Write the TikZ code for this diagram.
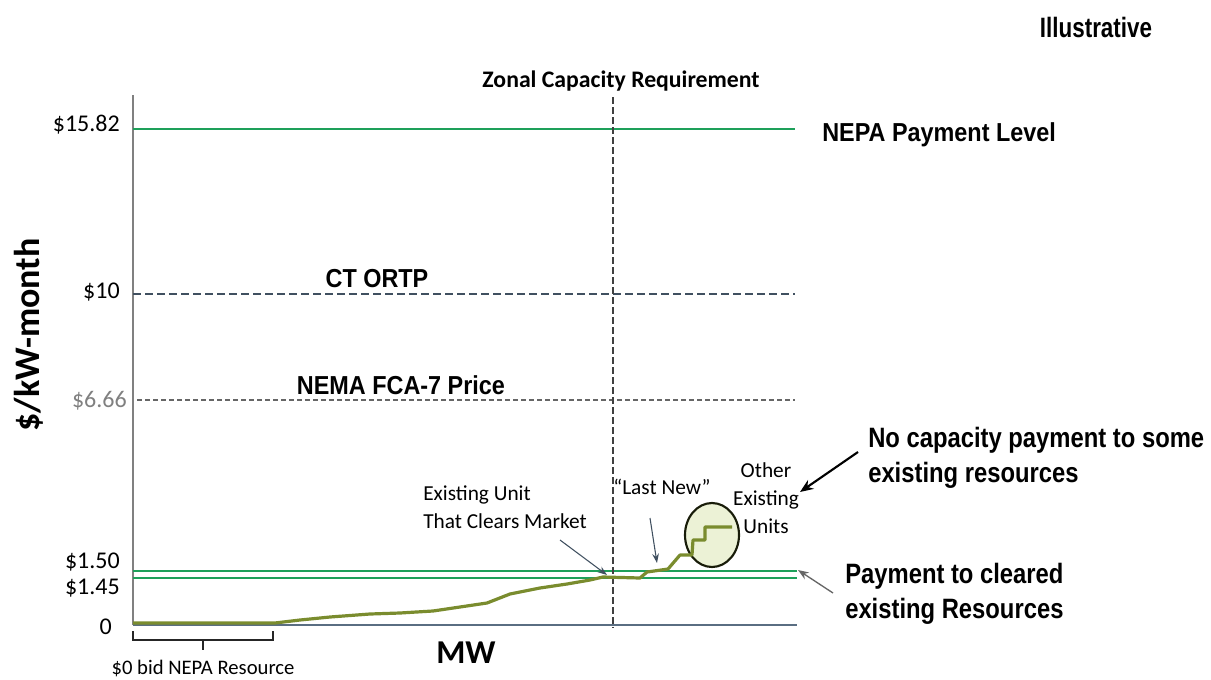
\documentclass[tikz,border=0pt]{standalone}
\usepackage{fontspec}
\setmainfont{Carlito}
\newfontfamily\arnfont[FakeStretch=0.9]{Liberation Sans}
\newfontfamily\sidefont[FakeStretch=0.85]{Liberation Sans}
\newfontfamily\illfont[FakeStretch=0.8]{Liberation Sans}
\usetikzlibrary{arrows.meta,shapes.geometric}
\definecolor{lgreen}{RGB}{30,160,90}
\definecolor{olive}{RGB}{122,140,46}
\definecolor{slate}{RGB}{64,80,96}
\definecolor{circfill}{RGB}{236,242,214}
\definecolor{basecol}{RGB}{90,110,130}
\begin{document}
\begin{tikzpicture}[x=0.75pt,y=-0.75pt,
  tick/.style={anchor=east,inner sep=0pt,font=\fontsize{18}{20}\selectfont},
  boldlab/.style={inner sep=0pt,font=\arnfont\bfseries\fontsize{19.5}{22}\selectfont},
  sidelab/.style={inner sep=0pt,anchor=west,align=left,font=\sidefont\bfseries\fontsize{21}{26}\selectfont},
  small/.style={inner sep=0pt,font=\fontsize{16}{21}\selectfont},
  greenline/.style={draw=lgreen,line width=1.6pt},
  thinarrow/.style={-{Stealth[length=7pt,width=5pt]},line width=0.8pt,draw=slate}]
\useasboundingbox (0,0) rectangle (1211,679);

% axes
\coordinate (ytop) at (133,95);
\coordinate (origin) at (133,625);
\coordinate (xend) at (797,625);
\draw[gray,line width=0.8pt] (ytop) -- (origin);
\draw[basecol,line width=0.8pt] (origin) -- (xend);

% horizontal levels
\coordinate (l1a) at (133,129); \coordinate (l1b) at (795,129);
\draw[greenline] (l1a) -- (l1b);
\coordinate (l2a) at (133,294); \coordinate (l2b) at (795,294);
\draw[slate,line width=1.1pt,dash pattern=on 6pt off 3pt] (l2a) -- (l2b);
\coordinate (l3a) at (137,400); \coordinate (l3b) at (795,400);
\draw[gray!80!black,line width=0.8pt,dash pattern=on 3.5pt off 2.5pt] (l3a) -- (l3b);
\coordinate (l4a) at (133,571); \coordinate (l4b) at (797,571);
\draw[greenline] (l4a) -- (l4b);
\coordinate (l5a) at (133,578); \coordinate (l5b) at (797,578);
\draw[greenline] (l5a) -- (l5b);

% zonal requirement line
\coordinate (ztop) at (613,97); \coordinate (zbot) at (613,628);
\draw[black!75,line width=0.9pt,dash pattern=on 5pt off 2.5pt] (ztop) -- (zbot);

% circle
\node[draw=black!80!olive,fill=circfill,line width=1.6pt,ellipse,minimum width=40.5pt,minimum height=48pt,inner sep=0pt] (circ) at (712,535) {};

% supply curve
\draw[olive,line width=2.4pt,line join=round] (133,623) -- (275,623) -- (300,620) -- (330,617) -- (370,614)
  -- (400,613) -- (433,611) -- (460,607) -- (487,603) -- (510,594) -- (540,588) -- (567,584)
  -- (590,580) -- (603,577) -- (640,578) -- (647,572) -- (668,569) -- (680,555) -- (692,555)
  -- (693,540) -- (705,540) -- (705,527) -- (717,527) -- (732,527);

% tick labels
\node[tick] (t1) at (120,125) {\$15.82};
\node[tick] (t2) at (120,292) {\$10};
\node[tick,text=gray] (t3) at (127,401) {\$6.66};
\node[tick] (t4) at (120,562) {\$1.50};
\node[tick] (t5) at (120,588) {\$1.45};
\node[tick] (t6) at (112,627) {0};

% axis titles
\node[rotate=90,inner sep=0pt,font=\bfseries\fontsize{27}{30}\selectfont] (ylab) at (29,335) {\$/kW-month};
\node[inner sep=0pt,font=\bfseries\fontsize{25}{28}\selectfont] (xlab) at (466,653) {MW};

% labels
\node[inner sep=0pt,font=\illfont\bfseries\fontsize{21}{24}\selectfont] (ill) at (1096,27) {Illustrative};
\node[inner sep=0pt,font=\bfseries\fontsize{17.8}{20}\selectfont] (zonal) at (621,81) {Zonal Capacity Requirement};
\node[boldlab,anchor=west] (nepa) at (822,135) {NEPA Payment Level};
\node[boldlab] (ct) at (377,279) {CT ORTP};
\node[boldlab] (nema) at (401,385) {NEMA FCA-7 Price};

\node[small,anchor=west,align=left] (exist) at (423,507) {Existing Unit\\That Clears Market};
\node[small] (lastnew) at (662,487) {“Last New”};
\node[small,align=center] (other) at (766,498) {Other\\Existing\\Units};

\node[sidelab] (nocap) at (868,458) {No capacity payment to some\\existing resources};
\node[sidelab] (pay) at (845,594) {Payment to cleared\\existing Resources};

% arrows
\coordinate (a1s) at (560,540); \coordinate (a1e) at (607,575);
\draw[thinarrow] (a1s) -- (a1e);
\coordinate (a2s) at (650,518); \coordinate (a2e) at (657,563);
\draw[thinarrow] (a2s) -- (a2e);
\coordinate (a3s) at (858,452); \coordinate (a3e) at (800,492);
\draw[-{Stealth[length=10pt,width=8pt]},line width=1.6pt] (a3s) -- (a3e);
\coordinate (a4s) at (833,593); \coordinate (a4e) at (798,570);
\draw[-{Stealth[length=8pt,width=6pt]},line width=1pt,draw=gray!80!black] (a4s) -- (a4e);

% bracket
\coordinate (b1) at (133,631); \coordinate (b2) at (133,640);
\coordinate (b3) at (273,640); \coordinate (b4) at (273,631);
\coordinate (bm) at (203,640); \coordinate (bt) at (203,650);
\draw[black!85,line width=1pt] (b1) -- (b2) -- (b3) -- (b4);
\draw[black!85,line width=1pt] (bm) -- (bt);
\node[inner sep=0pt,font=\fontsize{15.5}{18}\selectfont] (zerobid) at (203,668) {\$0 bid NEPA Resource};
\end{tikzpicture}
\end{document}
